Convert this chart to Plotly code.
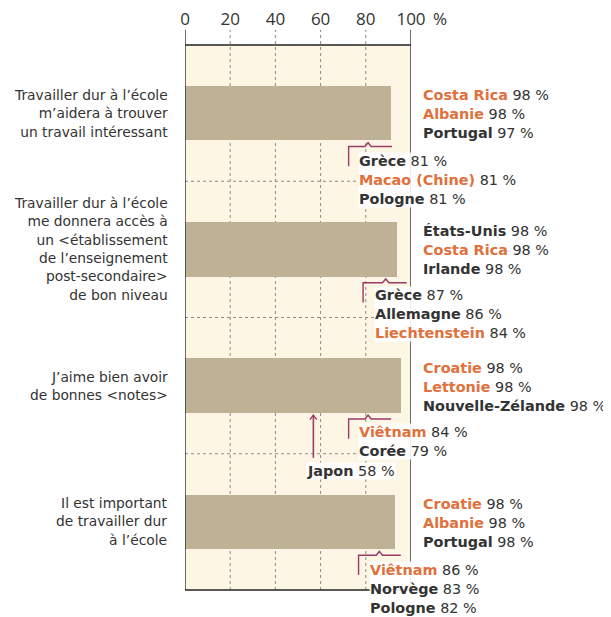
import plotly.graph_objects as go

# Left-hand statements (one entry per line)
categories = [
    ["Travailler dur à l’école", "m’aidera à trouver", "un travail intéressant"],
    ["Travailler dur à l’école", "me donnera accès à", "un <établissement",
     "de l’enseignement", "post-secondaire>", "de bon niveau"],
    ["J’aime bien avoir", "de bonnes <notes>"],
    ["Il est important", "de travailler dur", "à l’école"],
]
# OCDE average bars (%)
averages = [91, 94, 95.5, 93]

# highest countries (name, value, orange flag = partner)
top_names = [
    ["Costa Rica", "Albanie", "Portugal"],
    ["États-Unis", "Costa Rica", "Irlande"],
    ["Croatie", "Lettonie", "Nouvelle-Zélande"],
    ["Croatie", "Albanie", "Portugal"],
]
top_values = [[98, 98, 97], [98, 98, 98], [98, 98, 98], [98, 98, 98]]
top_partner = [[1, 1, 0], [0, 1, 0], [1, 1, 0], [1, 1, 0]]

# lowest countries
low_names = [
    ["Grèce", "Macao (Chine)", "Pologne"],
    ["Grèce", "Allemagne", "Liechtenstein"],
    ["Viêtnam", "Corée"],
    ["Viêtnam", "Norvège", "Pologne"],
]
low_values = [[81, 81, 81], [87, 86, 84], [84, 79], [86, 83, 82]]
low_partner = [[0, 1, 0], [0, 0, 1], [1, 0], [1, 0, 0]]

# outlier shown separately
japan_name = "Japon"
japan_value = 58

# bracket marker position (caret) and span, in %
caret_x = [81, 88.8, 81, 86]
bracket_span = [(72.4, 91.6), (78.8, 98.1), (72.4, 91.2), (76.8, 95.5)]

FONT = "DejaVu Sans"
TICK_FONT = "Open Sans"
ORANGE = "#e0703c"
DARK = "#333333"
BRACKET = "#9c3a68"
BAR = "#bfb195"
BG = "#fdf6e5"
WHITE_BOX = "rgba(255,255,255,0.88)"
LBL = 14.4  # country label glyph size

# page body has an 8px margin, so the figure is shrunk/shifted by that much
PAGE_OFF = 8

fig = go.Figure()
ys = list(range(len(categories)))

fig.add_trace(go.Bar(
    x=averages, y=ys, orientation="h", width=0.4,
    marker=dict(color=BAR, line=dict(width=0)),
    hoverinfo="skip", showlegend=False,
))


def add_block(lines, x, y, centre_px, spacing, size, anchor="left", bg=None):
    # line spacing is 1.3em of the base font, glyphs are sized by the inner span
    base = spacing / 1.3
    txt = "<br>".join(f"<span style='font-size:{size}px'>{s}</span>" for s in lines)
    kw = dict(bgcolor=bg, borderpad=0) if bg else {}
    fig.add_annotation(
        x=x, y=y, xref="paper", yref="y", xanchor=anchor, yanchor="middle",
        yshift=-centre_px, text=txt, showarrow=False, align=anchor,
        font=dict(family=FONT, size=base, color=DARK), **kw)


def country_lines(names, values, flags):
    out = []
    for n, v, f in zip(names, values, flags):
        col = ORANGE if f else DARK
        out.append(f"<span style='color:{col}'><b>{n}</b></span> {v} %")
    return out


# top-country labels on the right
for i in ys:
    add_block(country_lines(top_names[i], top_values[i], top_partner[i]),
              1.044, i, 1, 19, LBL)

# low-country labels under the brackets
low_pos = [(0.765, 66.5), (0.836, 65), (0.764, 56), (0.814, 67)]
for i in ys:
    lx, off = low_pos[i]
    add_block(country_lines(low_names[i], low_values[i], low_partner[i]),
              lx, i, off, 18.8, LBL, bg=WHITE_BOX)

# Japan label + arrow
add_block(country_lines([japan_name], [japan_value], [0]), 0.535, 2, 85, 18.8, LBL,
          bg=WHITE_BOX)
jx = japan_value - 1.2
fig.add_shape(type="line", xref="x", yref="y", x0=jx, x1=jx, y0=2.217, y1=2.53,
              line=dict(color=BRACKET, width=1.6))
fig.add_shape(type="path", xref="x", yref="y",
              path=f"M {jx-1.5},2.25 L {jx},2.217 L {jx+1.5},2.25",
              line=dict(color=BRACKET, width=1.4))

# brackets with caret
for i in ys:
    x0, x1 = bracket_span[i]
    c = caret_x[i]
    h = i + 0.245
    b = i + 0.39
    path = (f"M {x0},{b} L {x0},{h} L {c-1.4},{h} L {c},{h-0.028} "
            f"L {c+1.4},{h} L {x1},{h}")
    fig.add_shape(type="path", xref="x", yref="y", path=path,
                  line=dict(color=BRACKET, width=1.4), layer="below")

# category labels on the left
for i in ys:
    add_block(categories[i], -0.066, i, 0, 18.3, 13.8, anchor="right")

# grid / frame
for v in [20, 40, 60, 80]:
    fig.add_shape(type="line", xref="x", yref="paper", x0=v, x1=v, y0=0, y1=1.028,
                  line=dict(color="#8a8a8a", width=1, dash="dot"), layer="below")
for b in [0.5, 1.5, 2.5]:
    fig.add_shape(type="line", xref="x", yref="y", x0=0, x1=100, y0=b, y1=b,
                  line=dict(color="#8a8a8a", width=1, dash="dot"), layer="below")
    fig.add_shape(type="line", xref="x", yref="y", x0=-3.1, x1=0, y0=b, y1=b,
                  line=dict(color="#222", width=1.2))
for v in [0, 100]:
    fig.add_shape(type="line", xref="x", yref="paper", x0=v, x1=v, y0=0, y1=1.028,
                  line=dict(color="#222", width=1.3))
for p in [0, 1]:
    fig.add_shape(type="line", xref="x", yref="paper", x0=-3.1, x1=100, y0=p, y1=p,
                  line=dict(color="#222", width=1.3))

fig.add_annotation(x=1.0, y=1.0, xref="paper", yref="paper", xanchor="left", yanchor="bottom",
                   xshift=20, yshift=13, text="%", showarrow=False,
                   font=dict(family=TICK_FONT, size=17, color=DARK))

fig.update_layout(
    width=611 - PAGE_OFF, height=617 - PAGE_OFF,
    margin=dict(l=185 - PAGE_OFF, r=200, t=45 - PAGE_OFF, b=27, autoexpand=False),
    paper_bgcolor="white", plot_bgcolor=BG,
    font=dict(family=FONT, color=DARK),
    bargap=0,
    xaxis=dict(range=[0, 100], side="top", tickvals=[0, 20, 40, 60, 80, 100],
               ticks="outside", ticklen=12, tickcolor="rgba(0,0,0,0)",
               tickfont=dict(family=TICK_FONT, size=17, color=DARK), automargin=False,
               showgrid=False, zeroline=False, showline=False, fixedrange=True),
    yaxis=dict(range=[3.5, -0.5], showticklabels=False, showgrid=False, automargin=False,
               zeroline=False, showline=False, fixedrange=True),
)

fig.write_html("out.html")
